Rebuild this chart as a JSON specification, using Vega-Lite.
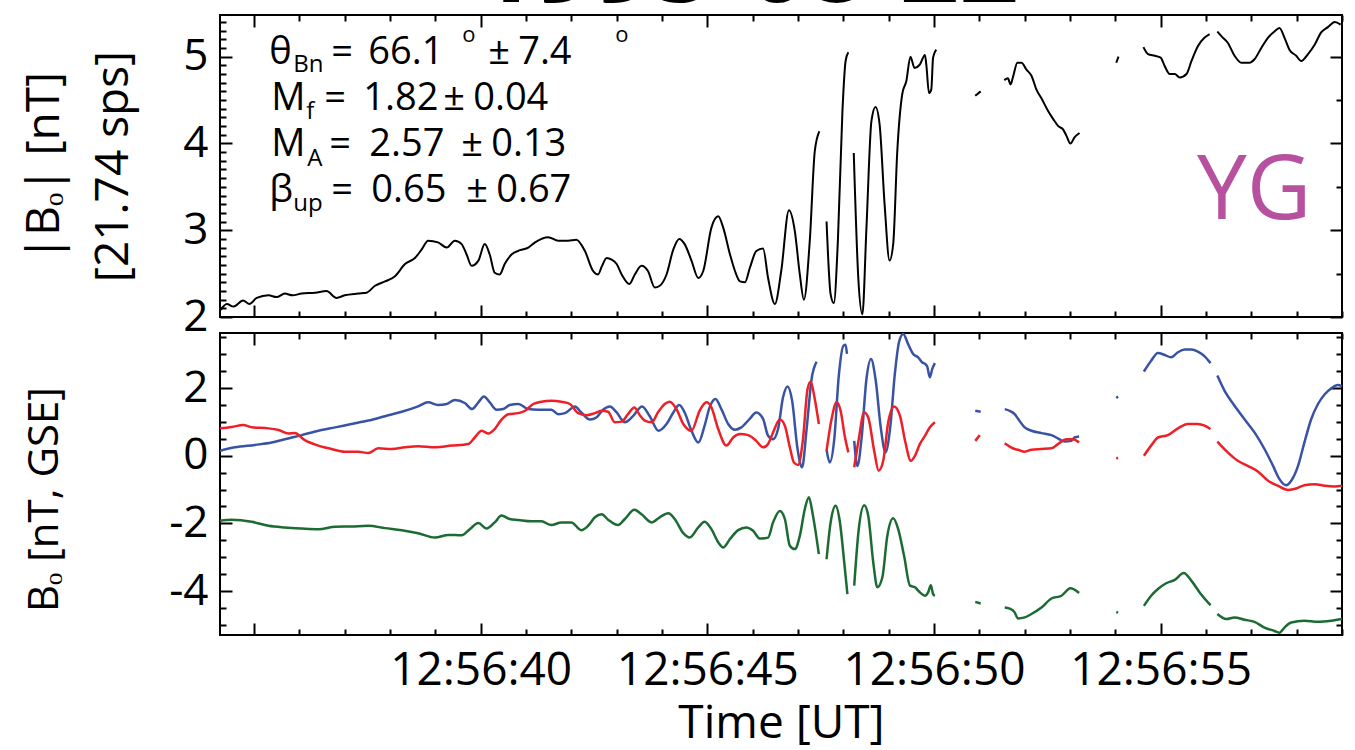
{
  "$schema": "https://vega.github.io/schema/vega-lite/v6.json",
  "background": "white",
  "padding": {"left": 20, "top": -81, "right": 5, "bottom": 5},
  "config": {
    "font": "Open Sans",
    "view": {"stroke": "black", "strokeWidth": 2},
    "axis": {
      "domain": false, "grid": false,
      "tickColor": "black", "tickWidth": 2,
      "labelColor": "black", "titleColor": "black",
      "labelFont": "Open Sans", "titleFont": "Open Sans",
      "titleFontWeight": "normal", "labelFlush": false, "labelOverlap": false, "labelLimit": 0
    }
  },
  "title": {"text": "1995-08-22", "fontSize": 104, "fontWeight": "bold", "font": "Open Sans", "color": "black", "anchor": "middle", "offset": -11, "dx": 63},
  "spacing": 16,
  "bounds": "flush",
  "datasets": {
    "bmag": [
      {"t":34.26,"v":2.08,"s":1},{"t":34.40,"v":2.15,"s":1},{"t":34.55,"v":2.12,"s":1},{"t":34.76,"v":2.19,"s":1},{"t":34.90,"v":2.15,"s":1},
      {"t":35.06,"v":2.22,"s":1},{"t":35.32,"v":2.25,"s":1},{"t":35.50,"v":2.23,"s":1},{"t":35.68,"v":2.27,"s":1},{"t":35.85,"v":2.25,"s":1},
      {"t":36.05,"v":2.27,"s":1},{"t":36.35,"v":2.28,"s":1},{"t":36.60,"v":2.30,"s":1},{"t":36.82,"v":2.22,"s":1},{"t":37.00,"v":2.25,"s":1},
      {"t":37.30,"v":2.27,"s":1},{"t":37.48,"v":2.28,"s":1},{"t":37.67,"v":2.36,"s":1},{"t":37.89,"v":2.41,"s":1},{"t":38.11,"v":2.47,"s":1},
      {"t":38.33,"v":2.61,"s":1},{"t":38.55,"v":2.68,"s":1},{"t":38.70,"v":2.78,"s":1},{"t":38.84,"v":2.88,"s":1},{"t":39.06,"v":2.86,"s":1},
      {"t":39.25,"v":2.80,"s":1},{"t":39.43,"v":2.88,"s":1},{"t":39.58,"v":2.84,"s":1},{"t":39.69,"v":2.72,"s":1},{"t":39.80,"v":2.59,"s":1},
      {"t":39.95,"v":2.65,"s":1},{"t":40.09,"v":2.84,"s":1},{"t":40.20,"v":2.72,"s":1},{"t":40.31,"v":2.51,"s":1},{"t":40.42,"v":2.49,"s":1},
      {"t":40.53,"v":2.61,"s":1},{"t":40.68,"v":2.72,"s":1},{"t":40.87,"v":2.77,"s":1},{"t":41.05,"v":2.80,"s":1},{"t":41.20,"v":2.86,"s":1},
      {"t":41.49,"v":2.92,"s":1},{"t":41.71,"v":2.88,"s":1},{"t":41.93,"v":2.88,"s":1},{"t":42.11,"v":2.89,"s":1},{"t":42.30,"v":2.76,"s":1},
      {"t":42.48,"v":2.53,"s":1},{"t":42.59,"v":2.49,"s":1},{"t":42.67,"v":2.58,"s":1},{"t":42.78,"v":2.68,"s":1},{"t":42.89,"v":2.66,"s":1},
      {"t":43.00,"v":2.61,"s":1},{"t":43.11,"v":2.49,"s":1},{"t":43.28,"v":2.38,"s":1},{"t":43.40,"v":2.49,"s":1},{"t":43.55,"v":2.59,"s":1},
      {"t":43.69,"v":2.53,"s":1},{"t":43.84,"v":2.34,"s":1},{"t":43.95,"v":2.36,"s":1},{"t":44.10,"v":2.49,"s":1},{"t":44.25,"v":2.78,"s":1},
      {"t":44.38,"v":2.90,"s":1},{"t":44.50,"v":2.84,"s":1},{"t":44.65,"v":2.65,"s":1},{"t":44.80,"v":2.45,"s":1},{"t":44.91,"v":2.53,"s":1},
      {"t":45.09,"v":3.03,"s":1},{"t":45.24,"v":3.16,"s":1},{"t":45.35,"v":3.03,"s":1},{"t":45.50,"v":2.72,"s":1},{"t":45.61,"v":2.53,"s":1},
      {"t":45.72,"v":2.41,"s":1},{"t":45.83,"v":2.40,"s":1},{"t":45.94,"v":2.57,"s":1},{"t":46.08,"v":2.76,"s":1},{"t":46.23,"v":2.79,"s":1},
      {"t":46.34,"v":2.45,"s":1},{"t":46.49,"v":2.15,"s":1},{"t":46.63,"v":2.53,"s":1},{"t":46.80,"v":3.23,"s":1},{"t":46.93,"v":2.99,"s":1},
      {"t":47.04,"v":2.49,"s":1},{"t":47.13,"v":2.20,"s":1},{"t":47.26,"v":2.88,"s":1},{"t":47.37,"v":3.91,"s":1},{"t":47.47,"v":4.14,"s":1},
      {"t":47.63,"v":3.10,"s":2},{"t":47.72,"v":2.26,"s":2},{"t":47.79,"v":2.16,"s":2},{"t":47.88,"v":2.88,"s":2},{"t":47.98,"v":4.37,"s":2},
      {"t":48.05,"v":4.95,"s":2},{"t":48.11,"v":5.05,"s":2},
      {"t":48.23,"v":3.89,"s":3},{"t":48.33,"v":2.45,"s":3},{"t":48.42,"v":2.03,"s":3},{"t":48.51,"v":3.03,"s":3},{"t":48.62,"v":4.26,"s":3},
      {"t":48.71,"v":4.42,"s":3},{"t":48.80,"v":4.22,"s":3},{"t":48.91,"v":3.30,"s":3},{"t":49.02,"v":2.65,"s":3},{"t":49.10,"v":2.84,"s":3},
      {"t":49.19,"v":3.91,"s":3},{"t":49.30,"v":4.57,"s":3},{"t":49.39,"v":4.72,"s":3},{"t":49.48,"v":5.00,"s":3},{"t":49.57,"v":4.87,"s":3},
      {"t":49.69,"v":4.91,"s":3},{"t":49.80,"v":5.02,"s":3},{"t":49.83,"v":4.91,"s":3},{"t":49.89,"v":4.58,"s":3},{"t":49.94,"v":4.62,"s":3},
      {"t":49.98,"v":4.99,"s":3},{"t":50.05,"v":5.08,"s":3},
      {"t":50.91,"v":4.55,"s":4},{"t":51.03,"v":4.60,"s":4},
      {"t":51.55,"v":4.73,"s":5},{"t":51.63,"v":4.75,"s":5},{"t":51.69,"v":4.68,"s":5},{"t":51.74,"v":4.76,"s":5},{"t":51.84,"v":4.93,"s":5},
      {"t":51.93,"v":4.93,"s":5},{"t":52.04,"v":4.85,"s":5},{"t":52.15,"v":4.78,"s":5},{"t":52.26,"v":4.62,"s":5},{"t":52.37,"v":4.52,"s":5},
      {"t":52.52,"v":4.37,"s":5},{"t":52.63,"v":4.28,"s":5},{"t":52.74,"v":4.20,"s":5},{"t":52.85,"v":4.16,"s":5},{"t":52.92,"v":4.09,"s":5},
      {"t":53.01,"v":4.00,"s":5},{"t":53.10,"v":4.07,"s":5},{"t":53.21,"v":4.12,"s":5},
      {"t":54.02,"v":4.93,"s":6},{"t":54.07,"v":5.00,"s":6},
      {"t":54.62,"v":5.11,"s":7},{"t":54.72,"v":5.03,"s":7},{"t":54.87,"v":5.01,"s":7},{"t":55.00,"v":4.99,"s":7},{"t":55.09,"v":4.89,"s":7},
      {"t":55.20,"v":4.80,"s":7},{"t":55.31,"v":4.80,"s":7},{"t":55.42,"v":4.76,"s":7},{"t":55.57,"v":4.80,"s":7},{"t":55.68,"v":4.95,"s":7},
      {"t":55.82,"v":5.12,"s":7},{"t":55.97,"v":5.22,"s":7},{"t":56.08,"v":5.26,"s":7},
      {"t":56.25,"v":5.29,"s":8},{"t":56.37,"v":5.22,"s":8},{"t":56.48,"v":5.16,"s":8},{"t":56.63,"v":5.01,"s":8},{"t":56.78,"v":4.93,"s":8},
      {"t":56.96,"v":4.93,"s":8},{"t":57.07,"v":4.97,"s":8},{"t":57.22,"v":5.10,"s":8},{"t":57.37,"v":5.22,"s":8},{"t":57.51,"v":5.29,"s":8},
      {"t":57.62,"v":5.33,"s":8},{"t":57.73,"v":5.22,"s":8},{"t":57.84,"v":5.08,"s":8},{"t":57.99,"v":5.01,"s":8},{"t":58.10,"v":4.95,"s":8},
      {"t":58.25,"v":5.03,"s":8},{"t":58.40,"v":5.14,"s":8},{"t":58.54,"v":5.28,"s":8},{"t":58.69,"v":5.34,"s":8},{"t":58.84,"v":5.40,"s":8},
      {"t":58.97,"v":5.37,"s":8}
    ],
    "comps": [
      {"c":"Bx","s":1,"t":34.25,"v":0.15},{"c":"Bx","s":1,"t":34.58,"v":0.25},{"c":"Bx","s":1,"t":35.02,"v":0.32},{"c":"Bx","s":1,"t":35.39,"v":0.39},
      {"c":"Bx","s":1,"t":35.68,"v":0.49},{"c":"Bx","s":1,"t":36.05,"v":0.61},{"c":"Bx","s":1,"t":36.42,"v":0.74},{"c":"Bx","s":1,"t":36.79,"v":0.84},
      {"c":"Bx","s":1,"t":37.15,"v":0.94},{"c":"Bx","s":1,"t":37.52,"v":1.04},{"c":"Bx","s":1,"t":37.89,"v":1.17},{"c":"Bx","s":1,"t":38.26,"v":1.30},
      {"c":"Bx","s":1,"t":38.62,"v":1.46},{"c":"Bx","s":1,"t":38.84,"v":1.58},{"c":"Bx","s":1,"t":39.06,"v":1.50},{"c":"Bx","s":1,"t":39.25,"v":1.53},
      {"c":"Bx","s":1,"t":39.43,"v":1.65},{"c":"Bx","s":1,"t":39.65,"v":1.56},{"c":"Bx","s":1,"t":39.81,"v":1.38},{"c":"Bx","s":1,"t":39.95,"v":1.58},
      {"c":"Bx","s":1,"t":40.07,"v":1.75},{"c":"Bx","s":1,"t":40.20,"v":1.58},{"c":"Bx","s":1,"t":40.35,"v":1.36},{"c":"Bx","s":1,"t":40.50,"v":1.38},
      {"c":"Bx","s":1,"t":40.64,"v":1.50},{"c":"Bx","s":1,"t":40.83,"v":1.53},{"c":"Bx","s":1,"t":41.05,"v":1.38},{"c":"Bx","s":1,"t":41.27,"v":1.36},
      {"c":"Bx","s":1,"t":41.56,"v":1.36},{"c":"Bx","s":1,"t":41.71,"v":1.23},{"c":"Bx","s":1,"t":41.86,"v":1.26},{"c":"Bx","s":1,"t":42.08,"v":1.46},
      {"c":"Bx","s":1,"t":42.22,"v":1.28},{"c":"Bx","s":1,"t":42.41,"v":1.07},{"c":"Bx","s":1,"t":42.56,"v":1.14},{"c":"Bx","s":1,"t":42.70,"v":1.36},
      {"c":"Bx","s":1,"t":42.85,"v":1.46},{"c":"Bx","s":1,"t":43.00,"v":1.28},{"c":"Bx","s":1,"t":43.18,"v":0.99},{"c":"Bx","s":1,"t":43.36,"v":1.17},
      {"c":"Bx","s":1,"t":43.56,"v":1.46},{"c":"Bx","s":1,"t":43.73,"v":1.17},{"c":"Bx","s":1,"t":43.92,"v":0.74},{"c":"Bx","s":1,"t":44.10,"v":0.94},
      {"c":"Bx","s":1,"t":44.25,"v":1.28},{"c":"Bx","s":1,"t":44.38,"v":1.50},{"c":"Bx","s":1,"t":44.50,"v":1.28},{"c":"Bx","s":1,"t":44.65,"v":0.74},
      {"c":"Bx","s":1,"t":44.80,"v":0.39},{"c":"Bx","s":1,"t":44.94,"v":0.89},{"c":"Bx","s":1,"t":45.05,"v":1.43},{"c":"Bx","s":1,"t":45.18,"v":1.68},
      {"c":"Bx","s":1,"t":45.31,"v":1.38},{"c":"Bx","s":1,"t":45.46,"v":0.94},{"c":"Bx","s":1,"t":45.61,"v":0.77},{"c":"Bx","s":1,"t":45.75,"v":0.84},
      {"c":"Bx","s":1,"t":45.94,"v":1.10},{"c":"Bx","s":1,"t":46.08,"v":1.28},{"c":"Bx","s":1,"t":46.23,"v":1.09},{"c":"Bx","s":1,"t":46.34,"v":0.59},
      {"c":"Bx","s":1,"t":46.45,"v":0.49},{"c":"Bx","s":1,"t":46.56,"v":0.79},{"c":"Bx","s":1,"t":46.67,"v":1.73},{"c":"Bx","s":1,"t":46.77,"v":2.05},
      {"c":"Bx","s":1,"t":46.87,"v":1.63},{"c":"Bx","s":1,"t":46.99,"v":0.20},{"c":"Bx","s":1,"t":47.09,"v":-0.34},{"c":"Bx","s":1,"t":47.19,"v":0.79},
      {"c":"Bx","s":1,"t":47.30,"v":2.27},{"c":"Bx","s":1,"t":47.41,"v":2.78},
      {"c":"Bx","s":2,"t":47.63,"v":0.18},{"c":"Bx","s":2,"t":47.70,"v":-0.20},{"c":"Bx","s":2,"t":47.80,"v":0.49},{"c":"Bx","s":2,"t":47.90,"v":2.37},
      {"c":"Bx","s":2,"t":48.00,"v":3.25},{"c":"Bx","s":2,"t":48.05,"v":3.28},{"c":"Bx","s":2,"t":48.08,"v":3.01},
      {"c":"Bx","s":3,"t":48.24,"v":0.44},{"c":"Bx","s":3,"t":48.31,"v":-0.30},{"c":"Bx","s":3,"t":48.40,"v":0.49},{"c":"Bx","s":3,"t":48.51,"v":2.27},
      {"c":"Bx","s":3,"t":48.61,"v":2.86},{"c":"Bx","s":3,"t":48.71,"v":2.27},{"c":"Bx","s":3,"t":48.83,"v":0.79},{"c":"Bx","s":3,"t":48.93,"v":0.10},
      {"c":"Bx","s":3,"t":49.03,"v":0.79},{"c":"Bx","s":3,"t":49.14,"v":2.47},{"c":"Bx","s":3,"t":49.23,"v":3.37},{"c":"Bx","s":3,"t":49.32,"v":3.60},
      {"c":"Bx","s":3,"t":49.43,"v":3.30},{"c":"Bx","s":3,"t":49.54,"v":3.01},{"c":"Bx","s":3,"t":49.65,"v":2.91},{"c":"Bx","s":3,"t":49.74,"v":2.76},
      {"c":"Bx","s":3,"t":49.81,"v":2.71},{"c":"Bx","s":3,"t":49.85,"v":2.64},{"c":"Bx","s":3,"t":49.91,"v":2.32},{"c":"Bx","s":3,"t":49.96,"v":2.56},
      {"c":"Bx","s":3,"t":50.02,"v":2.74},
      {"c":"Bx","s":4,"t":50.91,"v":1.33},{"c":"Bx","s":4,"t":51.03,"v":1.30},
      {"c":"Bx","s":5,"t":51.56,"v":1.38},{"c":"Bx","s":5,"t":51.67,"v":1.33},{"c":"Bx","s":5,"t":51.78,"v":1.23},{"c":"Bx","s":5,"t":51.85,"v":1.10},
      {"c":"Bx","s":5,"t":52.00,"v":0.84},{"c":"Bx","s":5,"t":52.15,"v":0.74},{"c":"Bx","s":5,"t":52.37,"v":0.67},{"c":"Bx","s":5,"t":52.59,"v":0.61},
      {"c":"Bx","s":5,"t":52.74,"v":0.51},{"c":"Bx","s":5,"t":52.88,"v":0.42},{"c":"Bx","s":5,"t":53.03,"v":0.44},{"c":"Bx","s":5,"t":53.10,"v":0.54},
      {"c":"Bx","s":5,"t":53.20,"v":0.57},
      {"c":"Bx","s":6,"t":54.02,"v":1.71},{"c":"Bx","s":6,"t":54.06,"v":1.75},
      {"c":"Bx","s":7,"t":54.63,"v":2.49},{"c":"Bx","s":7,"t":54.79,"v":2.81},{"c":"Bx","s":7,"t":54.94,"v":3.04},{"c":"Bx","s":7,"t":55.09,"v":2.98},
      {"c":"Bx","s":7,"t":55.23,"v":2.91},{"c":"Bx","s":7,"t":55.38,"v":3.06},{"c":"Bx","s":7,"t":55.53,"v":3.14},{"c":"Bx","s":7,"t":55.68,"v":3.14},
      {"c":"Bx","s":7,"t":55.82,"v":3.08},{"c":"Bx","s":7,"t":55.97,"v":2.94},{"c":"Bx","s":7,"t":56.10,"v":2.74},
      {"c":"Bx","s":8,"t":56.25,"v":2.37},{"c":"Bx","s":8,"t":56.41,"v":1.92},{"c":"Bx","s":8,"t":56.63,"v":1.48},{"c":"Bx","s":8,"t":56.85,"v":1.08},
      {"c":"Bx","s":8,"t":57.07,"v":0.69},{"c":"Bx","s":8,"t":57.29,"v":0.20},{"c":"Bx","s":8,"t":57.48,"v":-0.30},{"c":"Bx","s":8,"t":57.62,"v":-0.69},
      {"c":"Bx","s":8,"t":57.77,"v":-0.87},{"c":"Bx","s":8,"t":57.88,"v":-0.74},{"c":"Bx","s":8,"t":58.03,"v":-0.30},{"c":"Bx","s":8,"t":58.17,"v":0.39},
      {"c":"Bx","s":8,"t":58.32,"v":1.08},{"c":"Bx","s":8,"t":58.47,"v":1.53},{"c":"Bx","s":8,"t":58.62,"v":1.82},{"c":"Bx","s":8,"t":58.76,"v":1.99},
      {"c":"Bx","s":8,"t":58.91,"v":2.09},{"c":"Bx","s":8,"t":59.00,"v":2.05},

      {"c":"Bz","s":1,"t":34.25,"v":0.81},{"c":"Bz","s":1,"t":34.51,"v":0.85},{"c":"Bz","s":1,"t":34.76,"v":0.91},{"c":"Bz","s":1,"t":34.95,"v":0.84},
      {"c":"Bz","s":1,"t":35.32,"v":0.81},{"c":"Bz","s":1,"t":35.54,"v":0.76},{"c":"Bz","s":1,"t":35.76,"v":0.66},{"c":"Bz","s":1,"t":35.90,"v":0.67},
      {"c":"Bz","s":1,"t":36.12,"v":0.46},{"c":"Bz","s":1,"t":36.42,"v":0.30},{"c":"Bz","s":1,"t":36.71,"v":0.20},{"c":"Bz","s":1,"t":37.00,"v":0.12},
      {"c":"Bz","s":1,"t":37.30,"v":0.12},{"c":"Bz","s":1,"t":37.52,"v":0.08},{"c":"Bz","s":1,"t":37.74,"v":0.22},{"c":"Bz","s":1,"t":38.04,"v":0.20},
      {"c":"Bz","s":1,"t":38.33,"v":0.25},{"c":"Bz","s":1,"t":38.62,"v":0.28},{"c":"Bz","s":1,"t":38.99,"v":0.25},{"c":"Bz","s":1,"t":39.36,"v":0.30},
      {"c":"Bz","s":1,"t":39.73,"v":0.35},{"c":"Bz","s":1,"t":39.87,"v":0.54},{"c":"Bz","s":1,"t":40.02,"v":0.74},{"c":"Bz","s":1,"t":40.17,"v":0.66},
      {"c":"Bz","s":1,"t":40.31,"v":0.79},{"c":"Bz","s":1,"t":40.46,"v":1.07},{"c":"Bz","s":1,"t":40.61,"v":1.23},{"c":"Bz","s":1,"t":40.83,"v":1.26},
      {"c":"Bz","s":1,"t":40.98,"v":1.33},{"c":"Bz","s":1,"t":41.16,"v":1.53},{"c":"Bz","s":1,"t":41.34,"v":1.60},{"c":"Bz","s":1,"t":41.56,"v":1.63},
      {"c":"Bz","s":1,"t":41.78,"v":1.60},{"c":"Bz","s":1,"t":41.97,"v":1.53},{"c":"Bz","s":1,"t":42.15,"v":1.26},{"c":"Bz","s":1,"t":42.33,"v":1.20},
      {"c":"Bz","s":1,"t":42.52,"v":1.26},{"c":"Bz","s":1,"t":42.67,"v":1.33},{"c":"Bz","s":1,"t":42.81,"v":1.30},{"c":"Bz","s":1,"t":42.96,"v":0.99},
      {"c":"Bz","s":1,"t":43.11,"v":1.01},{"c":"Bz","s":1,"t":43.25,"v":1.23},{"c":"Bz","s":1,"t":43.39,"v":1.43},{"c":"Bz","s":1,"t":43.51,"v":1.20},
      {"c":"Bz","s":1,"t":43.62,"v":1.04},{"c":"Bz","s":1,"t":43.77,"v":0.99},{"c":"Bz","s":1,"t":43.92,"v":1.30},{"c":"Bz","s":1,"t":44.06,"v":1.53},
      {"c":"Bz","s":1,"t":44.17,"v":1.60},{"c":"Bz","s":1,"t":44.32,"v":1.38},{"c":"Bz","s":1,"t":44.47,"v":0.94},{"c":"Bz","s":1,"t":44.65,"v":0.74},
      {"c":"Bz","s":1,"t":44.83,"v":1.33},{"c":"Bz","s":1,"t":44.98,"v":1.58},{"c":"Bz","s":1,"t":45.09,"v":1.43},{"c":"Bz","s":1,"t":45.24,"v":0.79},
      {"c":"Bz","s":1,"t":45.42,"v":0.30},{"c":"Bz","s":1,"t":45.57,"v":0.54},{"c":"Bz","s":1,"t":45.72,"v":0.64},{"c":"Bz","s":1,"t":45.90,"v":0.61},
      {"c":"Bz","s":1,"t":46.08,"v":0.44},{"c":"Bz","s":1,"t":46.23,"v":0.25},{"c":"Bz","s":1,"t":46.34,"v":0.35},{"c":"Bz","s":1,"t":46.45,"v":0.69},
      {"c":"Bz","s":1,"t":46.60,"v":1.07},{"c":"Bz","s":1,"t":46.71,"v":0.89},{"c":"Bz","s":1,"t":46.82,"v":0.25},{"c":"Bz","s":1,"t":46.91,"v":-0.20},
      {"c":"Bz","s":1,"t":47.00,"v":-0.27},{"c":"Bz","s":1,"t":47.11,"v":0.49},{"c":"Bz","s":1,"t":47.21,"v":1.97},{"c":"Bz","s":1,"t":47.28,"v":2.19},
      {"c":"Bz","s":1,"t":47.37,"v":1.68},{"c":"Bz","s":1,"t":47.46,"v":0.94},
      {"c":"Bz","s":2,"t":47.63,"v":0.15},{"c":"Bz","s":2,"t":47.74,"v":1.08},{"c":"Bz","s":2,"t":47.85,"v":1.58},{"c":"Bz","s":2,"t":47.94,"v":1.33},
      {"c":"Bz","s":2,"t":48.03,"v":0.59},{"c":"Bz","s":2,"t":48.11,"v":0.10},
      {"c":"Bz","s":3,"t":48.24,"v":-0.34},{"c":"Bz","s":3,"t":48.34,"v":0.49},{"c":"Bz","s":3,"t":48.46,"v":1.28},{"c":"Bz","s":3,"t":48.55,"v":1.13},
      {"c":"Bz","s":3,"t":48.68,"v":0.15},{"c":"Bz","s":3,"t":48.78,"v":-0.44},{"c":"Bz","s":3,"t":48.88,"v":-0.15},{"c":"Bz","s":3,"t":48.99,"v":0.99},
      {"c":"Bz","s":3,"t":49.12,"v":1.46},{"c":"Bz","s":3,"t":49.25,"v":1.18},{"c":"Bz","s":3,"t":49.37,"v":0.39},{"c":"Bz","s":3,"t":49.49,"v":-0.15},
      {"c":"Bz","s":3,"t":49.58,"v":0.00},{"c":"Bz","s":3,"t":49.69,"v":0.35},{"c":"Bz","s":3,"t":49.80,"v":0.59},{"c":"Bz","s":3,"t":49.91,"v":0.84},
      {"c":"Bz","s":3,"t":50.02,"v":0.99},
      {"c":"Bz","s":4,"t":50.91,"v":0.44},{"c":"Bz","s":4,"t":51.01,"v":0.61},
      {"c":"Bz","s":5,"t":51.56,"v":0.37},{"c":"Bz","s":5,"t":51.78,"v":0.20},{"c":"Bz","s":5,"t":51.85,"v":0.18},{"c":"Bz","s":5,"t":52.00,"v":0.12},
      {"c":"Bz","s":5,"t":52.15,"v":0.18},{"c":"Bz","s":5,"t":52.37,"v":0.20},{"c":"Bz","s":5,"t":52.59,"v":0.22},{"c":"Bz","s":5,"t":52.74,"v":0.35},
      {"c":"Bz","s":5,"t":52.92,"v":0.49},{"c":"Bz","s":5,"t":53.07,"v":0.49},{"c":"Bz","s":5,"t":53.20,"v":0.39},
      {"c":"Bz","s":6,"t":54.02,"v":-0.08},{"c":"Bz","s":6,"t":54.06,"v":-0.06},
      {"c":"Bz","s":7,"t":54.63,"v":0.00},{"c":"Bz","s":7,"t":54.79,"v":0.30},{"c":"Bz","s":7,"t":54.94,"v":0.54},{"c":"Bz","s":7,"t":55.16,"v":0.61},
      {"c":"Bz","s":7,"t":55.38,"v":0.81},{"c":"Bz","s":7,"t":55.60,"v":0.94},{"c":"Bz","s":7,"t":55.82,"v":0.94},{"c":"Bz","s":7,"t":55.97,"v":0.89},
      {"c":"Bz","s":7,"t":56.10,"v":0.79},
      {"c":"Bz","s":8,"t":56.25,"v":0.42},{"c":"Bz","s":8,"t":56.48,"v":0.10},{"c":"Bz","s":8,"t":56.70,"v":-0.15},{"c":"Bz","s":8,"t":56.92,"v":-0.30},
      {"c":"Bz","s":8,"t":57.15,"v":-0.47},{"c":"Bz","s":8,"t":57.37,"v":-0.74},{"c":"Bz","s":8,"t":57.59,"v":-0.89},{"c":"Bz","s":8,"t":57.81,"v":-1.01},
      {"c":"Bz","s":8,"t":57.99,"v":-0.97},{"c":"Bz","s":8,"t":58.17,"v":-0.87},{"c":"Bz","s":8,"t":58.40,"v":-0.84},{"c":"Bz","s":8,"t":58.62,"v":-0.89},
      {"c":"Bz","s":8,"t":58.84,"v":-0.91},{"c":"Bz","s":8,"t":59.00,"v":-0.89},

      {"c":"By","s":1,"t":34.25,"v":-1.92},{"c":"By","s":1,"t":34.51,"v":-1.89},{"c":"By","s":1,"t":34.95,"v":-1.95},{"c":"By","s":1,"t":35.32,"v":-2.07},
      {"c":"By","s":1,"t":35.68,"v":-2.12},{"c":"By","s":1,"t":36.05,"v":-2.15},{"c":"By","s":1,"t":36.42,"v":-2.17},{"c":"By","s":1,"t":36.79,"v":-2.10},
      {"c":"By","s":1,"t":37.15,"v":-2.09},{"c":"By","s":1,"t":37.52,"v":-2.07},{"c":"By","s":1,"t":37.89,"v":-2.14},{"c":"By","s":1,"t":38.26,"v":-2.20},
      {"c":"By","s":1,"t":38.62,"v":-2.29},{"c":"By","s":1,"t":38.99,"v":-2.42},{"c":"By","s":1,"t":39.29,"v":-2.34},{"c":"By","s":1,"t":39.58,"v":-2.35},
      {"c":"By","s":1,"t":39.76,"v":-2.17},{"c":"By","s":1,"t":39.95,"v":-1.99},{"c":"By","s":1,"t":40.13,"v":-2.15},{"c":"By","s":1,"t":40.31,"v":-1.97},
      {"c":"By","s":1,"t":40.46,"v":-1.77},{"c":"By","s":1,"t":40.64,"v":-1.87},{"c":"By","s":1,"t":40.83,"v":-1.90},{"c":"By","s":1,"t":41.12,"v":-1.94},
      {"c":"By","s":1,"t":41.34,"v":-1.94},{"c":"By","s":1,"t":41.56,"v":-2.05},{"c":"By","s":1,"t":41.78,"v":-1.97},{"c":"By","s":1,"t":42.00,"v":-1.97},
      {"c":"By","s":1,"t":42.22,"v":-2.20},{"c":"By","s":1,"t":42.37,"v":-2.07},{"c":"By","s":1,"t":42.52,"v":-1.82},{"c":"By","s":1,"t":42.67,"v":-1.73},
      {"c":"By","s":1,"t":42.81,"v":-1.89},{"c":"By","s":1,"t":43.03,"v":-2.05},{"c":"By","s":1,"t":43.18,"v":-1.87},{"c":"By","s":1,"t":43.39,"v":-1.60},
      {"c":"By","s":1,"t":43.55,"v":-1.73},{"c":"By","s":1,"t":43.77,"v":-1.97},{"c":"By","s":1,"t":43.95,"v":-1.82},{"c":"By","s":1,"t":44.14,"v":-1.70},
      {"c":"By","s":1,"t":44.28,"v":-1.87},{"c":"By","s":1,"t":44.47,"v":-2.29},{"c":"By","s":1,"t":44.61,"v":-2.42},{"c":"By","s":1,"t":44.80,"v":-2.12},
      {"c":"By","s":1,"t":44.94,"v":-1.95},{"c":"By","s":1,"t":45.09,"v":-2.17},{"c":"By","s":1,"t":45.24,"v":-2.56},{"c":"By","s":1,"t":45.35,"v":-2.71},
      {"c":"By","s":1,"t":45.50,"v":-2.46},{"c":"By","s":1,"t":45.68,"v":-2.20},{"c":"By","s":1,"t":45.86,"v":-2.12},{"c":"By","s":1,"t":46.01,"v":-2.22},
      {"c":"By","s":1,"t":46.16,"v":-2.45},{"c":"By","s":1,"t":46.34,"v":-2.42},{"c":"By","s":1,"t":46.45,"v":-1.97},{"c":"By","s":1,"t":46.60,"v":-1.63},
      {"c":"By","s":1,"t":46.71,"v":-1.87},{"c":"By","s":1,"t":46.82,"v":-2.66},{"c":"By","s":1,"t":46.93,"v":-2.76},{"c":"By","s":1,"t":47.04,"v":-2.37},
      {"c":"By","s":1,"t":47.15,"v":-1.58},{"c":"By","s":1,"t":47.24,"v":-1.23},{"c":"By","s":1,"t":47.33,"v":-1.77},{"c":"By","s":1,"t":47.46,"v":-2.91},
      {"c":"By","s":2,"t":47.63,"v":-3.06},{"c":"By","s":2,"t":47.72,"v":-1.97},{"c":"By","s":2,"t":47.83,"v":-1.48},{"c":"By","s":2,"t":47.92,"v":-1.92},
      {"c":"By","s":2,"t":48.02,"v":-3.15},{"c":"By","s":2,"t":48.09,"v":-4.09},
      {"c":"By","s":3,"t":48.24,"v":-3.84},{"c":"By","s":3,"t":48.34,"v":-2.17},{"c":"By","s":3,"t":48.46,"v":-1.46},{"c":"By","s":3,"t":48.55,"v":-1.78},
      {"c":"By","s":3,"t":48.66,"v":-3.15},{"c":"By","s":3,"t":48.75,"v":-3.89},{"c":"By","s":3,"t":48.86,"v":-3.60},{"c":"By","s":3,"t":48.97,"v":-2.37},
      {"c":"By","s":3,"t":49.10,"v":-1.85},{"c":"By","s":3,"t":49.21,"v":-2.17},{"c":"By","s":3,"t":49.34,"v":-2.96},{"c":"By","s":3,"t":49.47,"v":-3.84},
      {"c":"By","s":3,"t":49.58,"v":-3.89},{"c":"By","s":3,"t":49.69,"v":-4.04},{"c":"By","s":3,"t":49.80,"v":-4.14},{"c":"By","s":3,"t":49.87,"v":-4.04},
      {"c":"By","s":3,"t":49.93,"v":-3.83},{"c":"By","s":3,"t":49.98,"v":-4.09},{"c":"By","s":3,"t":50.02,"v":-4.14},
      {"c":"By","s":4,"t":50.91,"v":-4.32},{"c":"By","s":4,"t":51.03,"v":-4.37},
      {"c":"By","s":5,"t":51.56,"v":-4.49},{"c":"By","s":5,"t":51.67,"v":-4.52},{"c":"By","s":5,"t":51.78,"v":-4.63},{"c":"By","s":5,"t":51.85,"v":-4.81},
      {"c":"By","s":5,"t":52.00,"v":-4.78},{"c":"By","s":5,"t":52.15,"v":-4.68},{"c":"By","s":5,"t":52.37,"v":-4.49},{"c":"By","s":5,"t":52.59,"v":-4.22},
      {"c":"By","s":5,"t":52.81,"v":-4.14},{"c":"By","s":5,"t":53.01,"v":-3.92},{"c":"By","s":5,"t":53.20,"v":-4.06},
      {"c":"By","s":6,"t":54.02,"v":-4.62},{"c":"By","s":6,"t":54.06,"v":-4.64},
      {"c":"By","s":7,"t":54.63,"v":-4.44},{"c":"By","s":7,"t":54.79,"v":-4.14},{"c":"By","s":7,"t":54.94,"v":-3.94},{"c":"By","s":7,"t":55.12,"v":-3.77},
      {"c":"By","s":7,"t":55.31,"v":-3.67},{"c":"By","s":7,"t":55.51,"v":-3.47},{"c":"By","s":7,"t":55.68,"v":-3.70},{"c":"By","s":7,"t":55.86,"v":-4.04},
      {"c":"By","s":7,"t":56.10,"v":-4.42},
      {"c":"By","s":8,"t":56.25,"v":-4.68},{"c":"By","s":8,"t":56.45,"v":-4.83},{"c":"By","s":8,"t":56.63,"v":-4.78},{"c":"By","s":8,"t":56.85,"v":-4.85},
      {"c":"By","s":8,"t":57.07,"v":-4.91},{"c":"By","s":8,"t":57.29,"v":-5.08},{"c":"By","s":8,"t":57.51,"v":-5.18},{"c":"By","s":8,"t":57.62,"v":-5.23},
      {"c":"By","s":8,"t":57.73,"v":-5.08},{"c":"By","s":8,"t":57.88,"v":-4.93},{"c":"By","s":8,"t":58.17,"v":-4.88},{"c":"By","s":8,"t":58.47,"v":-4.91},
      {"c":"By","s":8,"t":58.76,"v":-4.88},{"c":"By","s":8,"t":59.00,"v":-4.83}
    ],
    "notes": [
      {"role":"main","txt":"θ","t":35.337,"v":4.921},
      {"role":"main","txt":"=","t":36.704,"v":4.921},
      {"role":"main","txt":"66.1","t":37.520,"v":4.921},
      {"role":"main","txt":"±","t":40.166,"v":4.921},
      {"role":"main","txt":"7.4","t":40.827,"v":4.921},
      {"role":"main","txt":"M","t":35.381,"v":4.391},
      {"role":"main","txt":"=","t":36.550,"v":4.391},
      {"role":"main","txt":"1.82","t":37.410,"v":4.391},
      {"role":"main","txt":"±","t":39.174,"v":4.391},
      {"role":"main","txt":"0.04","t":39.835,"v":4.391},
      {"role":"main","txt":"M","t":35.381,"v":3.855},
      {"role":"main","txt":"=","t":36.660,"v":3.855},
      {"role":"main","txt":"2.57","t":37.542,"v":3.855},
      {"role":"main","txt":"±","t":39.571,"v":3.855},
      {"role":"main","txt":"0.13","t":40.232,"v":3.855},
      {"role":"main","txt":"β","t":35.337,"v":3.320},
      {"role":"main","txt":"=","t":36.704,"v":3.320},
      {"role":"main","txt":"0.65","t":37.586,"v":3.320},
      {"role":"main","txt":"±","t":39.681,"v":3.320},
      {"role":"main","txt":"0.67","t":40.342,"v":3.320},
      {"role":"sub","txt":"Bn","t":35.867,"v":4.828},
      {"role":"sub","txt":"f","t":36.153,"v":4.287},
      {"role":"sub","txt":"A","t":36.175,"v":3.739},
      {"role":"sub","txt":"up","t":35.867,"v":3.227},
      {"role":"sup","txt":"o","t":39.593,"v":5.17},
      {"role":"sup","txt":"o","t":42.967,"v":5.17},
      {"role":"tag","txt":"YG","t":55.800,"v":3.129}
    ]
  },
  "vconcat": [
    {
      "width": 1122, "height": 302,
      "resolve": {"axis": {"x": "independent", "y": "independent"}},
      "layer": [
        {
          "data": {"name": "bmag"},
          "mark": {"type": "line", "color": "black", "strokeWidth": 2, "interpolate": "monotone"},
          "encoding": {
            "x": {"field": "t", "type": "quantitative", "scale": {"domain": [34.25, 59.0], "nice": false, "zero": false},
              "axis": {"orient": "bottom", "labels": false, "title": null,
                "values": [35,36,37,38,39,40,41,42,43,44,45,46,47,48,49,50,51,52,53,54,55,56,57,58,59],
                "tickSize": {"condition": {"test": "datum.value % 5 === 0", "value": -12}, "value": -6}}},
            "y": {"field": "v", "type": "quantitative", "scale": {"domain": [2, 5.48], "nice": false, "zero": false},
              "axis": {"orient": "left", "ticks": false, "values": [2, 3, 4, 5], "labelFontSize": 44, "labelPadding": 12,
                "title": ["|Bₒ| [nT]", "[21.74 sps]"], "titleFontSize": 46, "titleLineHeight": 69, "titlePadding": 45}},
            "detail": {"field": "s", "type": "nominal"}
          }
        },
        {
          "data": {"name": "notes"},
          "transform": [{"filter": "datum.role === 'main'"}],
          "mark": {"type": "text", "align": "left", "baseline": "alphabetic", "fontSize": 38, "font": "Open Sans", "color": "black"},
          "encoding": {
            "x": {"field": "t", "type": "quantitative", "scale": {"domain": [34.25, 59.0], "nice": false, "zero": false},
              "axis": {"orient": "top", "labels": false, "title": null,
                "values": [35,36,37,38,39,40,41,42,43,44,45,46,47,48,49,50,51,52,53,54,55,56,57,58,59],
                "tickSize": {"condition": {"test": "datum.value % 5 === 0", "value": -12}, "value": -6}}},
            "y": {"field": "v", "type": "quantitative", "scale": {"domain": [2, 5.48], "nice": false, "zero": false},
              "axis": {"orient": "left", "labels": false, "title": null,
                "values": [2,2.1,2.2,2.3,2.4,2.5,2.6,2.7,2.8,2.9,3,3.1,3.2,3.3,3.4,3.5,3.6,3.7,3.8,3.9,4,4.1,4.2,4.3,4.4,4.5,4.6,4.7,4.8,4.9,5,5.1,5.2,5.3,5.4],
                "tickSize": {"condition": {"test": "abs(datum.value - round(datum.value)) < 0.01", "value": -12}, "value": -6}}},
            "text": {"field": "txt", "type": "nominal"}
          }
        },
        {
          "data": {"name": "notes"},
          "transform": [{"filter": "datum.role === 'sub'"}],
          "mark": {"type": "text", "align": "left", "baseline": "alphabetic", "fontSize": 24, "font": "Open Sans", "color": "black"},
          "encoding": {
            "x": {"field": "t", "type": "quantitative", "scale": {"domain": [34.25, 59.0], "nice": false, "zero": false}, "axis": null},
            "y": {"field": "v", "type": "quantitative", "scale": {"domain": [2, 5.48], "nice": false, "zero": false},
              "axis": {"orient": "right", "labels": false, "title": null,
                "values": [2,2.5,3,3.5,4,4.5,5],
                "tickSize": {"condition": {"test": "abs(datum.value - round(datum.value)) < 0.01", "value": -12}, "value": -6}}},
            "text": {"field": "txt", "type": "nominal"}
          }
        },
        {
          "data": {"name": "notes"},
          "transform": [{"filter": "datum.role === 'sup'"}],
          "mark": {"type": "text", "align": "left", "baseline": "alphabetic", "fontSize": 22, "font": "Open Sans", "color": "black"},
          "encoding": {
            "x": {"field": "t", "type": "quantitative", "scale": {"domain": [34.25, 59.0], "nice": false, "zero": false}, "axis": null},
            "y": {"field": "v", "type": "quantitative", "scale": {"domain": [2, 5.48], "nice": false, "zero": false}, "axis": null},
            "text": {"field": "txt", "type": "nominal"}
          }
        },
        {
          "data": {"name": "notes"},
          "transform": [{"filter": "datum.role === 'tag'"}],
          "mark": {"type": "text", "align": "left", "baseline": "alphabetic", "fontSize": 89, "font": "Open Sans", "color": "#b7519f"},
          "encoding": {
            "x": {"field": "t", "type": "quantitative", "scale": {"domain": [34.25, 59.0], "nice": false, "zero": false}, "axis": null},
            "y": {"field": "v", "type": "quantitative", "scale": {"domain": [2, 5.48], "nice": false, "zero": false}, "axis": null},
            "text": {"field": "txt", "type": "nominal"}
          }
        }
      ]
    },
    {
      "width": 1122, "height": 302,
      "resolve": {"axis": {"x": "independent", "y": "independent"}},
      "layer": [
        {
          "data": {"name": "comps"},
          "mark": {"type": "line", "strokeWidth": 2.5, "interpolate": "monotone"},
          "encoding": {
            "x": {"field": "t", "type": "quantitative", "scale": {"domain": [34.25, 59.0], "nice": false, "zero": false},
              "axis": {"orient": "bottom", "ticks": false, "values": [40, 45, 50, 55],
                "labelExpr": "'12:56:' + datum.value", "labelFontSize": 46, "labelPadding": 13,
                "title": "Time [UT]", "titleFontSize": 46, "titlePadding": 8}},
            "y": {"field": "v", "type": "quantitative", "scale": {"domain": [-5.3, 3.63], "nice": false, "zero": false},
              "axis": {"orient": "left", "ticks": false, "values": [-4, -2, 0, 2],
                "labelExpr": "(datum.value < 0 ? '-' : '') + abs(datum.value)", "labelFontSize": 44, "labelPadding": 12,
                "title": "Bₒ [nT, GSE]", "titleFontSize": 42, "titlePadding": 102, "titleY": 166}},
            "color": {"field": "c", "type": "nominal", "legend": null,
              "scale": {"domain": ["Bx", "By", "Bz"], "range": ["#3953a4", "#1c6b33", "#ee2027"]}},
            "detail": {"field": "s", "type": "nominal"}
          }
        },
        {
          "data": {"values": []},
          "mark": {"type": "point", "opacity": 0},
          "encoding": {
            "x": {"field": "t", "type": "quantitative", "scale": {"domain": [34.25, 59.0], "nice": false, "zero": false},
              "axis": {"orient": "bottom", "labels": false, "title": null,
                "values": [35,36,37,38,39,40,41,42,43,44,45,46,47,48,49,50,51,52,53,54,55,56,57,58,59],
                "tickSize": {"condition": {"test": "datum.value % 5 === 0", "value": -12}, "value": -6}}},
            "y": {"field": "v", "type": "quantitative", "scale": {"domain": [-5.3, 3.63], "nice": false, "zero": false},
              "axis": {"orient": "left", "labels": false, "title": null,
                "values": [-5,-4.5,-4,-3.5,-3,-2.5,-2,-1.5,-1,-0.5,0,0.5,1,1.5,2,2.5,3,3.5],
                "tickSize": {"condition": {"test": "abs(datum.value % 2) < 0.01", "value": -12}, "value": -6}}}
          }
        },
        {
          "data": {"values": []},
          "mark": {"type": "point", "opacity": 0},
          "encoding": {
            "x": {"field": "t", "type": "quantitative", "scale": {"domain": [34.25, 59.0], "nice": false, "zero": false},
              "axis": {"orient": "top", "labels": false, "title": null,
                "values": [35,36,37,38,39,40,41,42,43,44,45,46,47,48,49,50,51,52,53,54,55,56,57,58,59],
                "tickSize": {"condition": {"test": "datum.value % 5 === 0", "value": -12}, "value": -6}}},
            "y": {"field": "v", "type": "quantitative", "scale": {"domain": [-5.3, 3.63], "nice": false, "zero": false},
              "axis": {"orient": "right", "labels": false, "title": null,
                "values": [-5,-4.5,-4,-3.5,-3,-2.5,-2,-1.5,-1,-0.5,0,0.5,1,1.5,2,2.5,3,3.5],
                "tickSize": {"condition": {"test": "abs(datum.value % 2) < 0.01", "value": -12}, "value": -6}}}
          }
        }
      ]
    }
  ]
}
